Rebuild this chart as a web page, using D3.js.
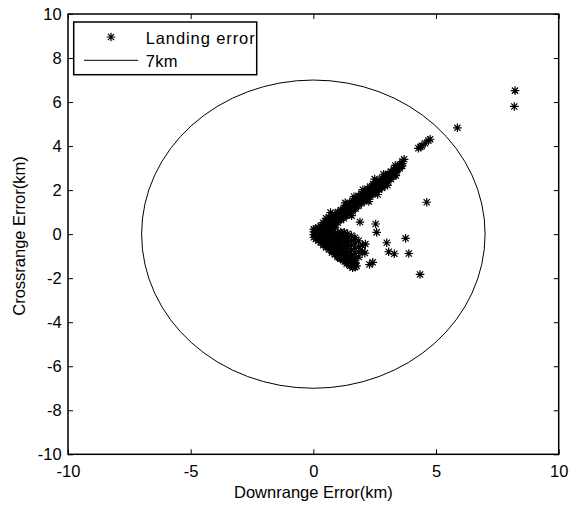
<!DOCTYPE html>
<html>
<head>
<meta charset="utf-8">
<script src="https://cdn.jsdelivr.net/npm/d3@7"></script>
<style>
  body { margin: 0; background: #fff; }
  text { font-family: "Liberation Sans", Arial, sans-serif; font-size: 16.5px; fill: #000; }
</style>
</head>
<body>
<svg id="chart" width="571" height="508"></svg>
<script>
// landing error scatter (km)
// columns: [downrange, [crossrange values...]]
const vertexCore = [
  [0.02, [0.22, 0.10, -0.02, -0.14]],
  [0.10, [0.26, 0.14, 0.02, -0.10, -0.22]],
  [0.20, [0.30, 0.18, 0.06, -0.06, -0.18, -0.30]],
  [0.30, [0.38, 0.24, 0.12, 0.00, -0.12, -0.24, -0.38]],
  [0.40, [0.52, 0.38, 0.24, 0.12, 0.00, -0.12, -0.24, -0.36, -0.50]],
  [0.52, [0.72, 0.60, 0.48, 0.36, 0.24, 0.12, 0.00, -0.12, -0.24, -0.36, -0.48, -0.60]],
  [0.64, [0.76, 0.64, 0.52, 0.40, 0.28, 0.16, 0.04, -0.08, -0.20, -0.32, -0.44, -0.56, -0.70]],
  [0.76, [0.82, 0.70, 0.58, 0.46, 0.34, 0.22, 0.10, -0.02, -0.14, -0.26, -0.38, -0.50, -0.62, -0.74, -0.84]],
  [0.88, [0.90, 0.78, 0.66, 0.54, 0.42, 0.30, -0.06, -0.18, -0.30, -0.42, -0.54, -0.66, -0.78, -0.92]]
]
const upperArm = [
  [1.00, [1.00, 0.88, 0.76, 0.64, 0.52]],
  [1.12, [1.10, 0.98, 0.86, 0.74, 0.64]],
  [1.24, [1.20, 1.08, 0.96, 0.84, 0.72]],
  [1.36, [1.32, 1.20, 1.08, 0.96, 0.84]],
  [1.48, [1.42, 1.30, 1.18, 1.06, 0.94]],
  [1.60, [1.52, 1.40, 1.28, 1.16, 1.04]],
  [1.72, [1.62, 1.50, 1.38, 1.26, 1.16]],
  [1.84, [1.74, 1.62, 1.50, 1.38, 1.28]],
  [1.96, [1.84, 1.72, 1.60, 1.48, 1.40]],
  [2.08, [1.94, 1.82, 1.70, 1.58, 1.50]],
  [2.20, [2.06, 1.94, 1.82, 1.70, 1.60]],
  [2.32, [2.16, 2.04, 1.92, 1.80, 1.70]],
  [2.44, [2.28, 2.16, 2.04, 1.92, 1.84]],
  [2.56, [2.38, 2.26, 2.14, 2.02, 1.94]],
  [2.68, [2.46, 2.34, 2.22, 2.10, 2.02]],
  [2.80, [2.54, 2.42, 2.30, 2.18, 2.10]],
  [2.92, [2.64, 2.52, 2.40, 2.28, 2.20]],
  [3.04, [2.74, 2.62, 2.50, 2.38]],
  [3.16, [2.84, 2.72, 2.60, 2.50]],
  [3.28, [2.94, 2.84, 2.72, 2.64]],
  [3.40, [3.04, 2.94, 2.84]],
  [3.52, [3.16, 3.06, 2.98]],
  [3.62, [3.30, 3.20, 3.10]]
]
// stray stars sticking out of the arm edges
const armEdge = [
  [0.70, [0.98]], [1.30, [1.42]], [1.66, [1.70]], [2.02, [2.02]], [2.50, [2.50]],
  [2.86, [2.72]], [3.34, [3.12]], [3.70, [3.40]],
  [1.56, [0.84]], [2.26, [1.48]], [2.62, [1.80]], [3.02, [2.22]], [3.36, [2.66]]
]
const lobe = [
  [1.00, [0.06, -0.08, -0.22, -0.36, -0.50, -0.64, -0.78, -0.92]],
  [1.12, [0.10, -0.06, -0.22, -0.38, -0.54, -0.70, -0.86, -1.00]],
  [1.26, [0.08, -0.10, -0.28, -0.46, -0.64, -0.82, -0.98]],
  [1.40, [0.02, -0.18, -0.38, -0.58, -0.78, -0.96, -1.12]],
  [1.55, [-0.06, -0.28, -0.50, -0.72, -0.92, -1.10]],
  [1.70, [-0.16, -0.40, -0.64, -0.88, -1.10, -1.28]],
  [1.85, [-0.30, -0.56, -0.80, -1.04]],
  [2.00, [-0.52, -0.78]],
  [2.10, [-0.86]],
  [2.12, [-0.45]]
]
const lowerArm = [
  [0.98, [-1.02]], [1.04, [-1.06]], [1.08, [-1.00]], [1.10, [-1.12]],
  [1.16, [-1.10]], [1.20, [-1.06]], [1.22, [-1.18]], [1.28, [-1.24]],
  [1.34, [-1.22]], [1.36, [-1.34]], [1.40, [-1.30]], [1.46, [-1.36]],
  [1.50, [-1.44]], [1.52, [-1.32]], [1.58, [-1.42]], [1.60, [-1.52]],
  [1.64, [-1.46]], [1.66, [-1.34]], [1.70, [-1.50]], [1.76, [-1.44]]
]
const armTip = [
  [4.28, [3.90]], [4.36, [3.96]], [4.42, [4.01]], [4.55, [4.13]], [4.69, [4.25]], [4.76, [4.31]]
]
const outliers = [
  [8.22, [6.52]], [8.19, [5.80]], [5.87, [4.83]], [4.62, [1.45]],
  [3.76, [-0.19]], [3.89, [-0.88]], [4.35, [-1.83]],
  [2.54, [0.46]], [2.58, [0.08]], [2.99, [-0.39]],
  [3.07, [-0.80]], [3.30, [-0.89]], [2.29, [-1.38]], [2.42, [-1.28]],
  [1.90, [0.55]]
]
const circleRadius = [7]
const xTicks = [-10, -5, 0, 5, 10]
const yTicks = [-10, -8, -6, -4, -2, 0, 2, 4, 6, 8, 10]
const legendLabels = ['Landing error', '7km']

const points = [vertexCore, upperArm, armEdge, lobe, lowerArm, armTip, outliers]
  .flat()
  .flatMap(([dx, ys]) => ys.map(dy => [dx, dy]))

const svg = d3.select('#chart')
const plotLeft = 68, plotRight = 558.7, plotTop = 14, plotBottom = 454.3

const x = d3.scaleLinear().domain([-10, 10]).range([plotLeft, plotRight])
const y = d3.scaleLinear().domain([-10, 10]).range([plotBottom, plotTop])

// axes, MATLAB style: box with inward ticks on every side, plain hyphen minus
const tick = 5
const fmt = d => String(d)
svg.append('g')
  .attr('transform', `translate(0,${plotBottom})`)
  .call(d3.axisBottom(x).tickValues(xTicks).tickFormat(fmt).tickSizeInner(-tick).tickSizeOuter(0).tickPadding(10.7))
svg.append('g')
  .attr('transform', `translate(0,${plotTop})`)
  .call(d3.axisTop(x).tickValues(xTicks).tickSizeInner(-tick).tickSizeOuter(0).tickFormat(''))
svg.append('g')
  .attr('transform', `translate(${plotLeft},0)`)
  .call(d3.axisLeft(y).tickValues(yTicks).tickFormat(fmt).tickSizeInner(-tick).tickSizeOuter(0).tickPadding(6.3))
svg.append('g')
  .attr('transform', `translate(${plotRight},0)`)
  .call(d3.axisRight(y).tickValues(yTicks).tickSizeInner(-tick).tickSizeOuter(0).tickFormat(''))

svg.selectAll('.domain').remove()
svg.selectAll('.tick line').attr('stroke', '#000').attr('stroke-width', 1)
svg.selectAll('.tick text')
  .attr('font-size', null)
  .attr('font-family', null)
  .attr('fill', '#000')

svg.append('rect')
  .attr('x', plotLeft).attr('y', plotTop)
  .attr('width', plotRight - plotLeft).attr('height', plotBottom - plotTop)
  .attr('fill', 'none').attr('stroke', '#000').attr('stroke-width', 1.5)

// 7 km circle
svg.append('ellipse')
  .data(circleRadius)
  .attr('cx', x(0)).attr('cy', y(0))
  .attr('rx', d => x(d) - x(0))
  .attr('ry', d => y(0) - y(d))
  .attr('fill', 'none').attr('stroke', '#000').attr('stroke-width', 1)

// asterisk markers
const star = 'M-4.3,0H4.3M0,-4.3V4.3M-3.1,-3.1L3.1,3.1M-3.1,3.1L3.1,-3.1'
svg.append('g')
  .selectAll('path')
  .data(points)
  .join('path')
  .attr('transform', d => `translate(${x(d[0])},${y(d[1])})`)
  .attr('d', star)
  .attr('fill', 'none')
  .attr('stroke', '#000')
  .attr('stroke-width', 1.2)

// axis titles
svg.append('text')
  .attr('x', x(0)).attr('y', 498)
  .attr('text-anchor', 'middle')
  .text('Downrange Error(km)')
svg.append('text')
  .attr('transform', `translate(25,236) rotate(-90)`)
  .attr('text-anchor', 'middle')
  .text('Crossrange Error(km)')

// legend
const legend = svg.append('g')
legend.append('rect')
  .attr('x', 73.7).attr('y', 22)
  .attr('width', 183).attr('height', 52.7)
  .attr('fill', '#fff').attr('stroke', '#000').attr('stroke-width', 1.5)
legend.append('path')
  .attr('transform', 'translate(111,37)')
  .attr('d', star)
  .attr('fill', 'none').attr('stroke', '#000').attr('stroke-width', 1.2)
legend.append('line')
  .attr('x1', 84).attr('x2', 138).attr('y1', 60.3).attr('y2', 60.3)
  .attr('stroke', '#000').attr('stroke-width', 1)
legend.selectAll('text')
  .data(legendLabels)
  .join('text')
  .attr('x', 145.7)
  .attr('y', (d, i) => [44, 66.5][i])
  .attr('letter-spacing', (d, i) => i === 0 ? '0.9px' : '0.3px')
  .text(d => d)
</script>
</body>
</html>
